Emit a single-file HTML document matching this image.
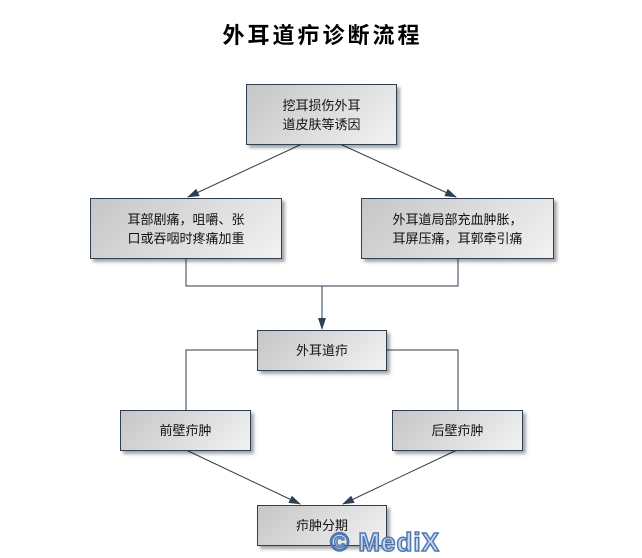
<!DOCTYPE html>
<html><head><meta charset="utf-8"><style>
body{margin:0;width:642px;height:553px;background:#fff;position:relative;overflow:hidden;font-family:"Liberation Sans","Noto Sans CJK SC",sans-serif;}
.t{position:absolute;left:0;width:645px;top:18px;text-align:center;font-size:22px;font-weight:bold;letter-spacing:3px;color:#000;}
.b{position:absolute;box-sizing:border-box;border:1px solid #2e3f52;background:linear-gradient(135deg,#c6c6c6 0%,#dedede 55%,#f2f2f2 100%);box-shadow:3px 3px 3px rgba(0,0,0,0.35);display:flex;align-items:center;justify-content:center;text-align:center;font-size:13px;line-height:19px;color:#111;}
svg{position:absolute;left:0;top:0;}
.w{position:absolute;left:330px;top:527px;font-size:26px;font-weight:bold;color:#c8d8ee;-webkit-text-stroke:1.5px #4f78b0;letter-spacing:1px;font-family:"Liberation Sans",sans-serif;}
</style></head><body>
<div class="t">外耳道疖诊断流程</div>
<svg width="642" height="553">
<defs><marker id="a" markerWidth="12" markerHeight="8" refX="11" refY="4" orient="auto" markerUnits="userSpaceOnUse"><path d="M0,0 L12,4 L0,8 z" fill="#2e3f52"/></marker></defs>
<g stroke="#2e3f52" stroke-width="1" fill="none">
<line x1="302" y1="144" x2="188" y2="197" marker-end="url(#a)"/>
<line x1="340" y1="144" x2="456" y2="197" marker-end="url(#a)"/>
<polyline points="186,258 186,286 458,286 458,258"/>
<line x1="322" y1="286" x2="322" y2="329" marker-end="url(#a)"/>
<polyline points="257,350 186,350 186,410"/>
<polyline points="386,350 458,350 458,410"/>
<line x1="186" y1="450" x2="300" y2="504" marker-end="url(#a)"/>
<line x1="457" y1="450" x2="343" y2="504" marker-end="url(#a)"/>
</g></svg>
<div class="b" style="left:246px;top:84px;width:151px;height:61px;">挖耳损伤外耳<br>道皮肤等诱因</div>
<div class="b" style="left:90px;top:198px;width:192px;height:61px;">耳部剧痛，咀嚼、张<br>口或吞咽时疼痛加重</div>
<div class="b" style="left:361px;top:198px;width:193px;height:61px;">外耳道局部充血肿胀，<br>耳屏压痛，耳郭牵引痛</div>
<div class="b" style="left:257px;top:330px;width:130px;height:41px;">外耳道疖</div>
<div class="b" style="left:120px;top:410px;width:131px;height:41px;">前壁疖肿</div>
<div class="b" style="left:392px;top:410px;width:131px;height:41px;">后壁疖肿</div>
<div class="b" style="left:257px;top:505px;width:130px;height:41px;">疖肿分期</div>
<div class="w">© MediX</div>
</body></html>
